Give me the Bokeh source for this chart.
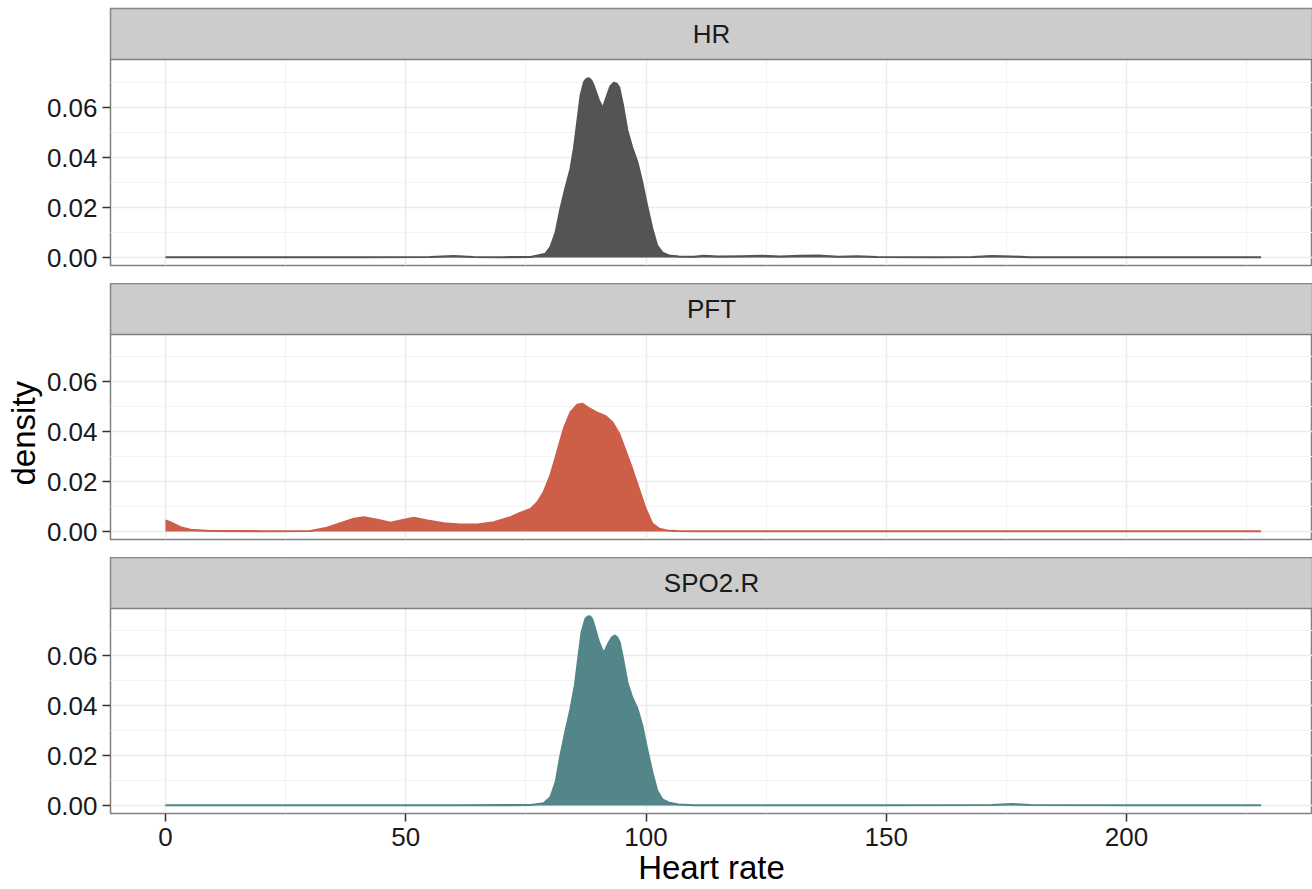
from bokeh.plotting import figure
from bokeh.layouts import column
from bokeh.models import FixedTicker, Range1d, Title, NumeralTickFormatter
from bokeh.embed import file_html
from bokeh.resources import INLINE
from bokeh.core.properties import value

# ---------------- data ----------------
facets = ["HR", "PFT", "SPO2.R"]
colors = ["#545454", "#CD5E48", "#528689"]

hr_x = [0, 20, 40, 55, 60, 64, 70, 76, 79.1, 80.1, 81.2, 82.2, 83.2, 84.3, 85.0, 85.7, 86.4, 87.1, 87.6,
        88.1, 88.6, 89.1, 90.2, 91.0, 91.9, 92.6, 93.3, 93.9, 94.4, 95.2, 96.1, 97.1, 98.2, 99.2, 100.2,
        101.3, 102.3, 103.4, 104.8, 106.8, 110, 112, 115, 120, 124, 128, 132, 136, 140, 144, 148, 160,
        168, 172, 176, 180, 200, 228]
hr_y = [0.0001, 0.0001, 0.0001, 0.0002, 0.0006, 0.0002, 0.0001, 0.0002, 0.0015, 0.0041, 0.0101, 0.0195,
        0.0275, 0.0355, 0.0435, 0.0541, 0.0648, 0.0701, 0.0714, 0.0717, 0.0708, 0.0688, 0.0628, 0.0597,
        0.0648, 0.0685, 0.0699, 0.0695, 0.0681, 0.0608, 0.0508, 0.0441, 0.0381, 0.0301, 0.0208, 0.0115,
        0.0048, 0.0019, 0.0008, 0.0004, 0.0003, 0.0007, 0.0004, 0.0005, 0.0007, 0.0004, 0.0007, 0.0008,
        0.0003, 0.0005, 0.0002, 0.0001, 0.0002, 0.0006, 0.0004, 0.0001, 0.0001, 0.0001]

pft_x = [0, 1.0, 3.1, 5.2, 9.4, 20, 30.2, 33.6, 36.4, 39.2, 41.3, 44.1, 46.8, 48.9, 51.7, 54.5, 57.9,
         61.4, 64.9, 68.3, 71.8, 73.9, 76.0, 77.4, 78.7, 80.1, 81.5, 82.9, 84.3, 85.7, 86.7, 88.1, 89.8,
         91.6, 93.0, 94.4, 95.7, 97.1, 98.5, 99.9, 101.3, 102.7, 104.4, 106.5, 110, 150, 200, 228]
pft_y = [0.0044, 0.0037, 0.0017, 0.0007, 0.0002, 0.0001, 0.0002, 0.0015, 0.0033, 0.0051, 0.0057, 0.0047,
         0.0035, 0.0044, 0.0055, 0.0044, 0.0033, 0.0028, 0.0028, 0.0037, 0.0057, 0.0075, 0.0090, 0.0117,
         0.0157, 0.0224, 0.0317, 0.0411, 0.0477, 0.0507, 0.0511, 0.0493, 0.0475, 0.0461, 0.0437, 0.0391,
         0.0324, 0.0251, 0.0171, 0.0091, 0.0031, 0.0011, 0.0004, 0.0002, 0.0001, 0.0001, 0.0001, 0.0001]

spo_x = [0, 30, 60, 76, 78.7, 80.1, 81.2, 82.2, 83.2, 84.3, 85.2, 85.9, 86.6, 87.4, 87.9, 88.3, 88.7,
         89.1, 90.2, 91.2, 92.3, 92.9, 93.5, 94.0, 94.5, 95.2, 96.1, 97.1, 98.2, 99.2, 100.2, 101.3,
         102.3, 103.4, 104.8, 106.8, 110, 150, 172, 176, 180, 200, 228]
spo_y = [0.0001, 0.0001, 0.0001, 0.0002, 0.0009, 0.0033, 0.0093, 0.0200, 0.0293, 0.0387, 0.0480, 0.0587,
         0.0693, 0.0747, 0.0756, 0.0757, 0.0748, 0.0727, 0.0653, 0.0609, 0.0653, 0.0672, 0.0679, 0.0672,
         0.0653, 0.0587, 0.0493, 0.0433, 0.0387, 0.0320, 0.0227, 0.0133, 0.0060, 0.0024, 0.0011, 0.0004,
         0.0001, 0.0001, 0.0002, 0.0006, 0.0002, 0.0001, 0.0001]

series_x = [hr_x, pft_x, spo_x]
series_y = [hr_y, pft_y, spo_y]

x_ticks = [0, 50, 100, 150, 200]
x_minor = [25, 75, 125, 175, 225]
y_ticks = [0, 0.02, 0.04, 0.06]
y_minor = [0.01, 0.03, 0.05, 0.07]

# ---------------- layout constants ----------------
FONT = "Liberation Sans"
X0, X1 = -11.45, 238.7
PXU = 2500.0          # pixels per density unit
STRIP_PX = 51
PANEL_PX = [206, 205, 205]
TOP_PX = [8, 0, 0]
BOT_PX = [18, 18, 76]
Y0 = -8 / PXU
BORDER = "#7F7F7F"
GRID = "#EBEBEB"

figs = []
for i, name in enumerate(facets):
    last = i == len(facets) - 1
    strip_lo = Y0 + PANEL_PX[i] / PXU
    y1 = strip_lo + STRIP_PX / PXU
    h = TOP_PX[i] + PANEL_PX[i] + STRIP_PX + BOT_PX[i]
    p = figure(width=1312, height=h, x_range=Range1d(X0, X1), y_range=Range1d(Y0, y1),
               output_backend="svg", toolbar_location=None,
               x_axis_location="below" if last else None,
               min_border_left=110, min_border_right=0, min_border_top=TOP_PX[i],
               min_border_bottom=BOT_PX[i])
    p.outline_line_color = BORDER
    p.outline_line_width = 1.5
    p.background_fill_color = "white"
    p.border_fill_color = "white"

    p.xgrid.ticker = FixedTicker(ticks=x_ticks, minor_ticks=x_minor)
    p.ygrid.ticker = FixedTicker(ticks=y_ticks, minor_ticks=y_minor)
    p.grid.grid_line_color = GRID
    p.grid.grid_line_width = 1.5
    p.grid.minor_grid_line_color = "#F3F3F3"
    p.grid.minor_grid_line_width = 1

    ya = p.yaxis
    ya.ticker = FixedTicker(ticks=y_ticks, minor_ticks=y_minor)
    ya.formatter = NumeralTickFormatter(format="0.00")
    ya.axis_line_color = None
    ya.major_tick_in = 0
    ya.major_tick_out = 8
    ya.major_tick_line_color = "#333333"
    ya.major_tick_line_width = 1.5
    ya.minor_tick_line_color = None
    ya.major_label_text_font = FONT
    ya.major_label_text_font_size = "26px"
    ya.major_label_text_color = "#1a1a1a"
    ya.major_label_standoff = 5

    if last:
        xa = p.xaxis
        xa.ticker = FixedTicker(ticks=x_ticks, minor_ticks=x_minor)
        xa.axis_line_color = None
        xa.major_tick_in = 0
        xa.major_tick_out = 8
        xa.major_tick_line_color = "#333333"
        xa.major_tick_line_width = 1.5
        xa.minor_tick_line_color = None
        xa.major_label_text_font = FONT
        xa.major_label_text_font_size = "26px"
        xa.major_label_text_color = "#1a1a1a"
        xa.major_label_standoff = 6
        xa.axis_label = "Heart rate"
        xa.axis_label_text_font = FONT
        xa.axis_label_text_font_size = "33px"
        xa.axis_label_text_font_style = "normal"
        xa.axis_label_text_color = "#000000"
        xa.axis_label_standoff = 0

    # density area + outline
    p.varea(x=series_x[i], y1=0, y2=series_y[i], fill_color=colors[i], fill_alpha=1.0)
    p.line(x=series_x[i], y=series_y[i], line_color=colors[i], line_width=2.2,
           line_join="round")

    # facet strip
    p.quad(left=[X0], right=[X1], bottom=[strip_lo], top=[y1],
           fill_color="#CCCCCC", line_color=BORDER, line_width=1.5)
    p.text(x=[(X0 + X1) / 2], y=[(strip_lo + y1) / 2], text=[name],
           text_align="center", text_baseline="middle",
           text_font=value(FONT), text_font_size="26px", text_color="#1a1a1a")

    if i == 1:
        t = Title(text="density", align="left", offset=54, standoff=4,
                  text_font=FONT, text_font_size="33px", text_font_style="normal",
                  text_color="#000000")
        p.add_layout(t, "left")

    figs.append(p)

layout = column(*figs, spacing=0)
open("out.html", "w").write(file_html(layout, INLINE))
